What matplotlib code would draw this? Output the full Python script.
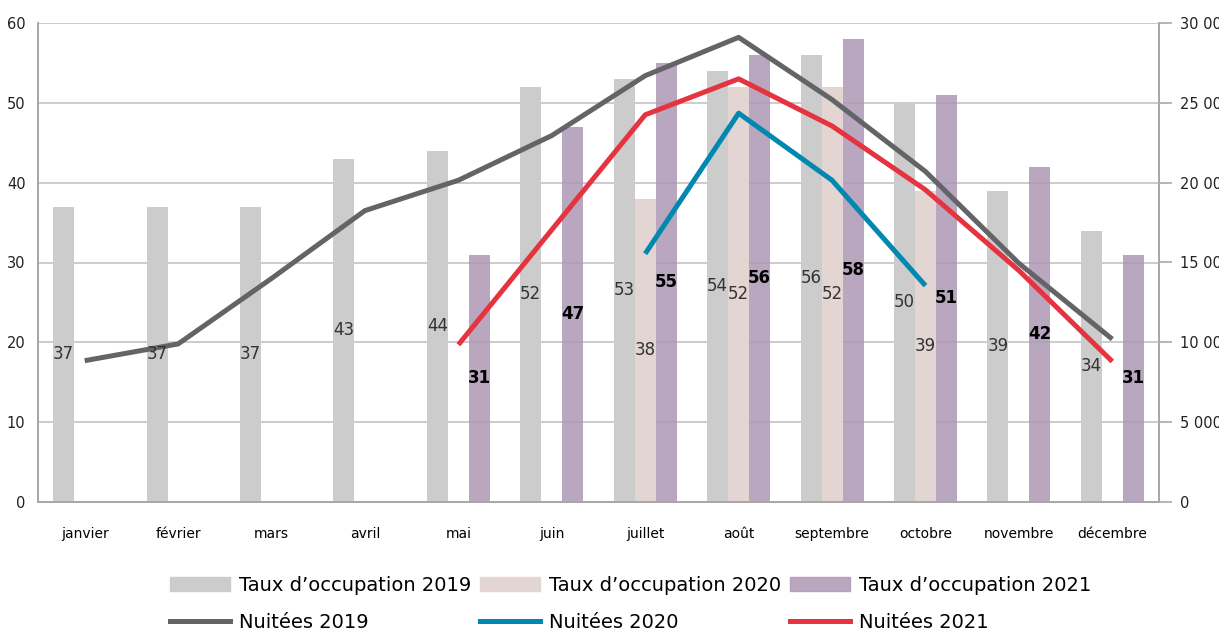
import matplotlib.pyplot as plt
import matplotlib.patches as mpatches
import matplotlib.lines as mlines
from matplotlib.ticker import FuncFormatter
import numpy as np

mois = ['janvier', 'février', 'mars', 'avril', 'mai', 'juin', 'juillet',
        'août', 'septembre', 'octobre', 'novembre', 'décembre']

taux_2019 = [37, 37, 37, 43, 44, 52, 53, 54, 56, 50, 39, 34]
taux_2020 = [None] * 6 + [38, 52, 52, 39] + [None] * 2
taux_2021 = [None] * 4 + [31, 47, 55, 56, 58, 51, 42, 31]

nuitees_2019 = [8850, 9900, 14000, 18250, 20150, 22950, 26700, 29100, 25200, 20700, 14950, 10200]
nuitees_2020 = [None] * 6 + [15550, 24350, 20150, 13550] + [None] * 2
nuitees_2021 = [None] * 4 + [9850, 17050, 24250, 26500, 23550, 19550, 14500, 8800]

c_t19, c_t20, c_t21 = '#cccccc', '#e3d5d1', '#ad98b4'
c_n19, c_n20, c_n21 = '#636467', '#0088b0', '#e5333f'
spine_c = '#a8a8a8'

W, H = 1219, 631
fig = plt.figure(figsize=(W / 100, H / 100), dpi=100)
ax = fig.add_axes([38 / W, 129 / H, 1121 / W, 479 / H])
ax2 = ax.twinx()

x = np.arange(len(mois))
bw = 0.225


def pick(vals):
    idx = [i for i, v in enumerate(vals) if v is not None]
    return np.array(idx), np.array([vals[i] for i in idx], dtype=float)


bars = [(taux_2019, -bw, c_t19, 1.0), (taux_2020, 0.0, c_t20, 1.0), (taux_2021, bw, c_t21, 0.85)]
for vals, off, col, a in bars:
    i, v = pick(vals)
    ax.bar(i + off, v, width=bw, color=col, alpha=a, zorder=2)

for vals, col in [(nuitees_2019, c_n19), (nuitees_2020, c_n20), (nuitees_2021, c_n21)]:
    i, v = pick(vals)
    ax2.plot(i, v, color=col, lw=3.6, solid_capstyle='butt', zorder=3)

# data labels, centred in each bar
for vals, off, bold in [(taux_2019, -bw, False), (taux_2020, 0.0, False), (taux_2021, bw, True)]:
    i, v = pick(vals)
    for xi, vi in zip(i, v):
        ax2.text(xi + off, vi / 2, f'{int(vi)}', transform=ax.transData,
                 ha='center', va='center', fontsize=12,
                 fontweight='bold' if bold else 'normal',
                 color='black' if bold else '#333333', zorder=5)

ax.set_xlim(-0.5, len(mois) - 0.5)
ax.set_ylim(0, 60)
ax2.set_ylim(0, 30000)
ax.set_yticks(range(0, 61, 10))
ax2.set_yticks(range(0, 30001, 5000))
ax2.yaxis.set_major_formatter(FuncFormatter(lambda v, p: f'{int(v):,}'.replace(',', ' ')))

ax.set_xticks(x)
ax.set_xticklabels(mois, fontsize=10)
ax.tick_params(axis='x', length=0, pad=18)
ax.tick_params(axis='y', length=0, pad=9, labelsize=10.5, labelcolor='#222222')
ax2.tick_params(axis='y', length=9, width=1.2, color=spine_c, pad=6, labelsize=10.5, labelcolor='#222222')

ax.yaxis.grid(True, color='#cccccc', lw=1.4, zorder=0)
ax.set_axisbelow(True)
for a_ in (ax, ax2):
    a_.spines['top'].set_visible(False)
    for s in ['left', 'right', 'bottom']:
        a_.spines[s].set_color(spine_c)
        a_.spines[s].set_linewidth(1.4)

# legend: three columns, each with a bar entry on top and a line entry below
cols = [
    (170, 'Taux d\u2019occupation 2019', c_t19, 1.0, 'Nuitées 2019', c_n19),
    (480, 'Taux d\u2019occupation 2020', c_t20, 1.0, 'Nuitées 2020', c_n20),
    (790, 'Taux d\u2019occupation 2021', c_t21, 0.85, 'Nuitées 2021', c_n21),
]
for px, lab_t, ct, a, lab_n, cn in cols:
    h1 = mpatches.Patch(color=ct, alpha=a, label=lab_t)
    h2 = mlines.Line2D([], [], color=cn, lw=3.6, label=lab_n)
    fig.legend(handles=[h1, h2], loc='upper left', bbox_to_anchor=(px / W, 1 - 576 / H),
               frameon=False, fontsize=14, handlelength=3.1, handleheight=0.7,
               handletextpad=0.45, labelspacing=0.9, borderpad=0, borderaxespad=0)

fig.savefig('out.png', dpi=100)
